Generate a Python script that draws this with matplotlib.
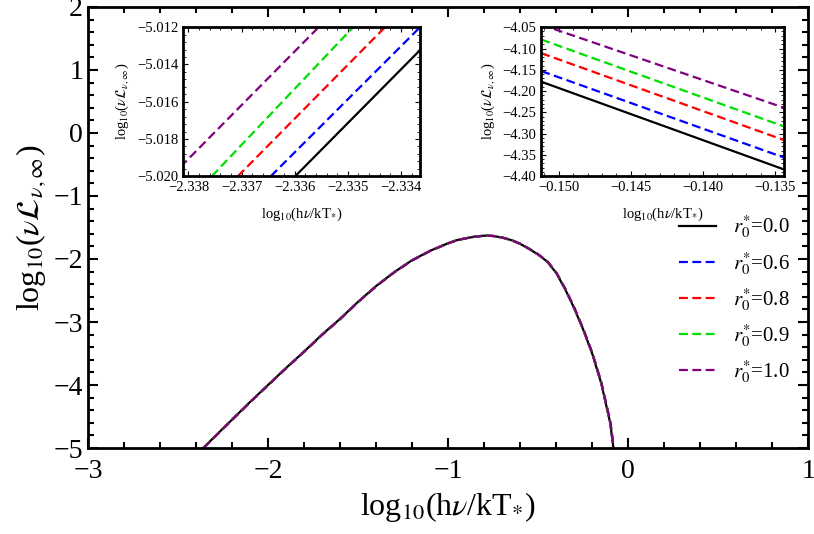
import numpy as np
import matplotlib
matplotlib.use("Agg")
import matplotlib.pyplot as plt
from matplotlib.ticker import MultipleLocator

plt.rcParams["font.family"] = "Liberation Serif"
plt.rcParams["mathtext.fontset"] = "stix"

# main curve
x_main = [-2.36, -2.3, -2.2, -2.1, -2.0, -1.9, -1.8, -1.7, -1.6, -1.5, -1.4, -1.3,
          -1.2, -1.1, -1.0, -0.95, -0.9, -0.85, -0.8, -0.75, -0.7, -0.65,
          -0.6, -0.55, -0.5, -0.45, -0.4, -0.35, -0.3, -0.25, -0.2, -0.15,
          -0.1, -0.082]
y_main = [-5.0, -4.83, -4.55, -4.27, -4.0, -3.73, -3.47, -3.2, -2.95, -2.68,
          -2.43, -2.21, -2.02, -1.87, -1.75, -1.70, -1.67, -1.645, -1.63,
          -1.635, -1.66, -1.70, -1.76, -1.84, -1.93, -2.04, -2.22, -2.48,
          -2.78, -3.12, -3.5, -3.97, -4.6, -5.0]

labels = ["0.0", "0.6", "0.8", "0.9", "1.0"]
colors = ["black", "blue", "red", "#00dd00", "purple"]
# tiny horizontal shift of each curve (hardly visible in main panel)
x_shift = [0.0, 0.0005, 0.001, 0.0015, 0.002]

# inset 1 (low frequency): line end points
in1_x = [[-2.33599, -2.33364], [-2.33645, -2.33364], [-2.33707, -2.33430],
         [-2.33756, -2.33490], [-2.33815, -2.33555]]
in1_y = [[-5.020, -5.01323], [-5.020, -5.0120], [-5.020, -5.0120],
         [-5.020, -5.0120], [-5.0195, -5.0120]]

# inset 2 (high frequency)
in2_x = [-0.1512, -0.1344]
in2_y = [[-4.178, -4.384], [-4.153, -4.356], [-4.111, -4.315],
         [-4.079, -4.283], [-4.044, -4.239]]

fig = plt.figure(figsize=(8.14, 5.34), dpi=100)
ax = fig.add_axes([0.108, 0.161, 0.885, 0.826])

for i in range(5):
    ls = "-" if i == 0 else (0, (4, 2))
    ax.plot(np.array(x_main) + x_shift[i], y_main, color=colors[i], ls=ls, lw=1.6,
            label=r"$r_0^{*}$=" + labels[i])

ax.set_xlim(-3, 1)
ax.set_ylim(-5, 2)
ax.xaxis.set_major_locator(MultipleLocator(1))
ax.xaxis.set_minor_locator(MultipleLocator(0.2))
ax.yaxis.set_major_locator(MultipleLocator(1))
ax.yaxis.set_minor_locator(MultipleLocator(0.2))
ax.tick_params(which="both", direction="in", top=True, right=True, labelsize=20, width=1.5)
ax.tick_params(which="major", length=7)
ax.tick_params(which="minor", length=4)
ax.tick_params(axis="x", pad=8)
for s in ax.spines.values():
    s.set_linewidth(2)
ax.set_xlabel(r"log$_{10}$(h$\nu$/kT$_{*}$)", fontsize=23)
ax.set_ylabel(r"log$_{10}$($\nu\mathcal{L}_{\nu,\infty}$)", fontsize=23)
ax.legend(loc="lower right", bbox_to_anchor=(1.0, 0.10), frameon=False, fontsize=15,
          handlelength=1.8, labelspacing=0.45)

def style_inset(a):
    for s in a.spines.values():
        s.set_linewidth(2)
    a.tick_params(which="both", direction="in", top=True, right=True, labelsize=10.5)
    a.set_xlabel(r"log$_{10}$(h$\nu$/kT$_{*}$)", fontsize=10.5, labelpad=8)
    a.set_ylabel(r"log$_{10}$($\nu\mathcal{L}_{\nu,\infty}$)", fontsize=10.5)

a1 = fig.add_axes([0.225, 0.670, 0.291, 0.279])
for i in range(5):
    ls = "-" if i == 0 else (0, (4, 2))
    a1.plot(in1_x[i], in1_y[i], color=colors[i], ls=ls, lw=1.6)
a1.set_xlim(-2.3381, -2.33364)
a1.set_ylim(-5.020, -5.012)
a1.yaxis.set_major_locator(MultipleLocator(0.002))
a1.set_xticks([-2.338, -2.337, -2.336, -2.335, -2.334])
a1.set_xticklabels(["\u22122.338", "\u22122.337", "\u22122.336", "\u22122.335", "\u22122.334"])
a1.xaxis.set_minor_locator(MultipleLocator(0.0002))
a1.yaxis.set_minor_locator(MultipleLocator(0.0004))
style_inset(a1)

a2 = fig.add_axes([0.665, 0.670, 0.298, 0.279])
for i in range(5):
    ls = "-" if i == 0 else (0, (4, 2))
    a2.plot(in2_x, in2_y[i], color=colors[i], ls=ls, lw=1.6)
a2.set_xlim(-0.1512, -0.1344)
a2.set_ylim(-4.40, -4.05)
a2.xaxis.set_major_locator(MultipleLocator(0.005))
a2.yaxis.set_major_locator(MultipleLocator(0.05))
a2.xaxis.set_minor_locator(MultipleLocator(0.001))
a2.yaxis.set_minor_locator(MultipleLocator(0.01))
a2.xaxis.set_major_formatter(lambda v, p: f"{v:.3f}".replace("-", "\u2212"))
a2.yaxis.set_major_formatter(lambda v, p: f"{v:.2f}".replace("-", "\u2212"))
style_inset(a2)

fig.savefig("out.png", dpi=100)
